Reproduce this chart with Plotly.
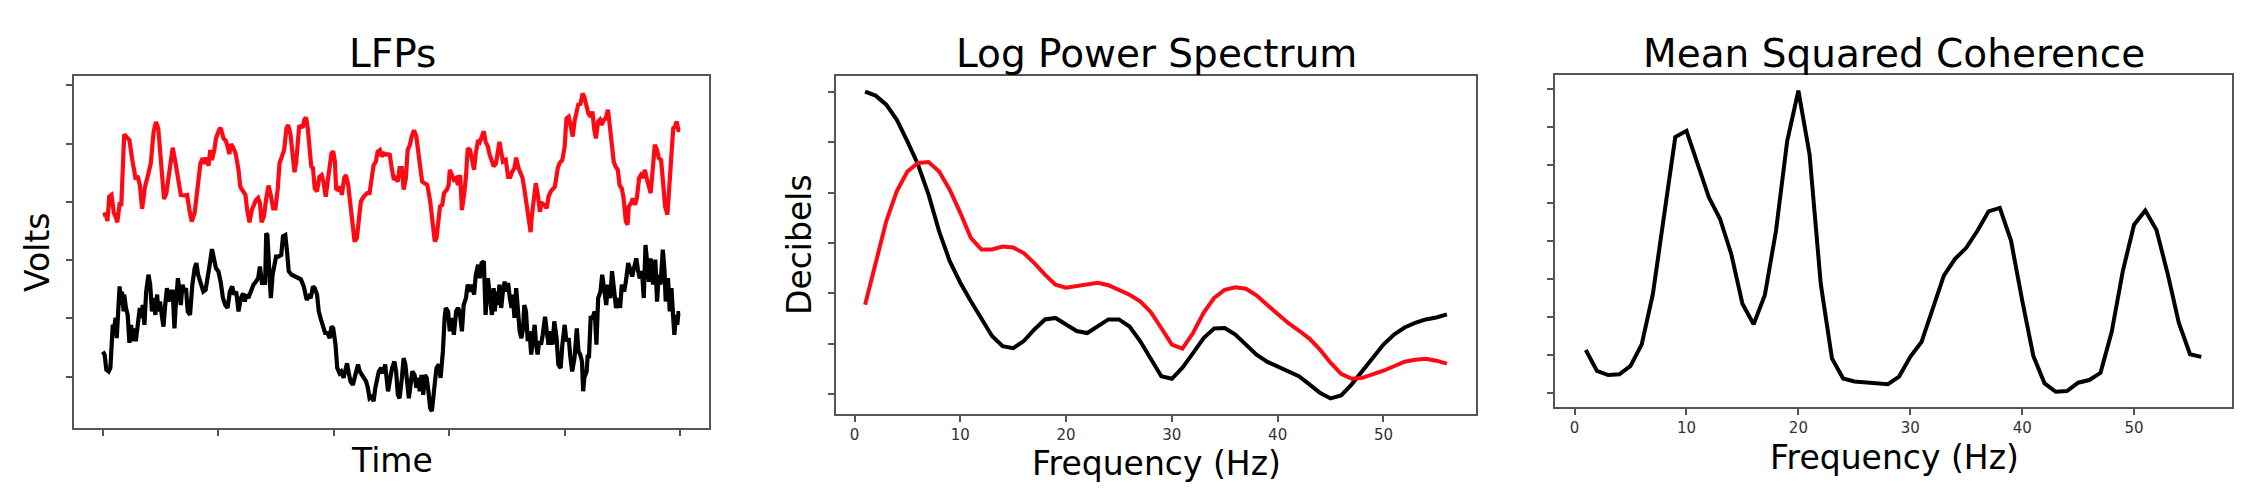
import plotly.graph_objects as go

# LFP traces (samples, arbitrary volts)
red_time = [0, 5, 8, 11, 15, 19, 22, 25, 29, 32, 37, 42, 46, 51, 54, 57, 60, 64, 68, 73,
            77, 83, 88, 92, 96, 100, 103, 106, 110, 115, 121, 126, 131, 135, 140, 146, 150, 154, 159, 164,
            169, 173, 176, 179, 183, 186, 189, 193, 196, 201, 204, 209, 213, 216, 219, 222, 226, 230, 235, 238,
            242, 247, 250, 254, 258, 261, 265, 269, 272, 275, 279, 283, 287, 291, 295, 299, 303, 306, 310, 314,
            318, 321, 325, 328, 332, 335, 338, 340, 343, 346, 349, 352, 355, 358, 361, 364, 367, 371, 375, 379,
            382, 386, 389, 393, 396, 399, 402, 404, 407, 411, 414, 418, 421, 425, 428, 432, 436, 440, 443, 447,
            452, 458, 462, 466, 469, 473, 476, 480, 483, 487, 490, 493, 497, 500, 504, 507, 511, 514, 518, 521,
            525, 528, 532, 535, 539, 543, 546, 550, 553, 557, 562, 567, 571, 575, 578, 581, 584, 588, 591, 596,
            599, 601, 605, 608, 612, 615, 619, 622, 626, 629, 632, 636, 639, 643, 646, 650, 653, 657, 660, 663,
            667, 670, 674, 677, 681, 684, 687, 690, 693, 698, 702, 706, 709, 713, 716, 720, 723, 727, 730, 734,
            738, 741, 743, 747, 750, 754, 757, 760, 765, 769, 772, 776, 780, 783, 788, 791, 796, 800, 803, 807,
            810, 814, 817, 821, 824, 827, 831, 834, 838, 841, 845, 848, 851, 854, 858, 861, 864, 868, 871, 875,
            878, 881, 885, 888, 892, 895, 899, 902, 906, 909, 911, 915, 918, 922, 925, 929, 932, 935, 939, 942,
            946, 949, 953, 956, 960, 963, 967, 971, 974, 978, 981, 985, 988, 991, 994, 997, 1000]
red_lfp = [0.78, 0.79, 0.67, 1.09, 1.12, 0.81, 0.75, 0.65, 0.96, 0.96, 2.16, 2.10, 2.06, 1.72, 1.58, 1.38, 1.45, 1.29, 0.88, 1.26,
           1.41, 1.66, 2.21, 2.37, 2.26, 1.83, 1.35, 1.05, 1.15, 1.55, 1.93, 1.66, 1.35, 1.12, 1.11, 1.12, 0.86, 0.66, 0.81, 1.23,
           1.66, 1.75, 1.65, 1.76, 1.62, 1.89, 1.72, 1.89, 2.09, 2.23, 2.27, 2.09, 2.05, 1.95, 1.82, 1.99, 1.93, 1.83, 1.55, 1.26,
           1.21, 1.12, 0.86, 0.65, 0.86, 0.95, 1.03, 1.07, 0.98, 0.65, 0.75, 1.06, 1.28, 1.11, 0.89, 0.89, 1.23, 1.66, 1.76, 1.89,
           2.26, 2.32, 2.16, 1.89, 1.51, 1.69, 1.98, 2.29, 2.30, 2.27, 2.41, 2.45, 2.26, 1.92, 1.61, 1.58, 1.23, 1.18, 1.43, 1.46,
           1.35, 1.09, 1.35, 1.66, 1.83, 1.87, 1.69, 1.23, 1.21, 1.26, 1.12, 1.41, 1.46, 1.29, 1.06, 0.66, 0.32, 0.38, 0.72, 1.01,
           1.09, 1.15, 1.15, 1.41, 1.63, 1.69, 1.86, 1.89, 1.78, 1.83, 1.81, 1.82, 1.81, 1.61, 1.38, 1.41, 1.35, 1.58, 1.58, 1.21,
           1.41, 1.89, 1.98, 2.12, 2.23, 2.12, 1.83, 1.58, 1.35, 1.32, 1.29, 1.01, 0.61, 0.32, 0.38, 0.66, 0.92, 0.95, 1.15, 1.21,
           1.29, 1.55, 1.46, 1.38, 1.41, 1.29, 1.46, 0.86, 1.15, 1.43, 1.92, 1.89, 1.75, 1.55, 1.83, 2.06, 2.03, 2.12, 2.21, 2.03,
           1.95, 1.81, 1.72, 1.61, 1.66, 1.83, 2.03, 1.86, 1.69, 1.72, 1.43, 1.43, 1.52, 1.58, 1.76, 1.58, 1.49, 1.41, 1.23, 0.95,
           0.61, 0.48, 0.75, 1.06, 1.32, 1.09, 0.83, 0.98, 0.95, 0.89, 1.09, 1.18, 1.23, 1.26, 1.58, 1.66, 1.72, 1.95, 2.43, 2.46,
           2.32, 2.12, 2.38, 2.61, 2.69, 2.66, 2.86, 2.80, 2.66, 2.52, 2.46, 2.55, 2.26, 2.09, 2.38, 2.41, 2.32, 2.41, 2.43, 2.58,
           2.32, 1.98, 1.69, 1.61, 1.55, 1.29, 1.23, 1.06, 0.66, 0.61, 0.92, 0.98, 1.06, 0.95, 1.06, 1.41, 1.46, 1.41, 1.55, 1.41,
           1.29, 1.15, 1.61, 1.98, 1.89, 1.75, 1.72, 1.18, 0.92, 0.78, 1.23, 1.86, 2.26, 2.29, 2.38, 2.23, 2.23]

black_time = [0, 3, 6, 10, 13, 15, 17, 20, 22, 24, 26, 28, 29, 32, 33, 36, 37, 40, 43, 46,
              49, 52, 55, 57, 60, 64, 67, 69, 72, 75, 79, 82, 85, 88, 91, 94, 96, 99, 102, 105,
              108, 111, 114, 117, 121, 124, 126, 130, 133, 135, 138, 141, 144, 147, 151, 155, 159, 162, 165, 170,
              174, 178, 182, 185, 189, 193, 196, 200, 204, 208, 212, 216, 220, 224, 227, 231, 235, 239, 243, 246,
              248, 252, 256, 261, 265, 269, 272, 276, 278, 281, 283, 285, 289, 291, 294, 297, 300, 304, 309, 312,
              316, 319, 322, 327, 332, 337, 343, 348, 351, 353, 357, 360, 364, 367, 371, 374, 377, 381, 385, 389,
              393, 396, 399, 403, 406, 410, 413, 417, 420, 423, 426, 429, 433, 436, 439, 442, 445, 449, 452, 456,
              459, 462, 466, 469, 472, 475, 478, 482, 485, 489, 492, 494, 498, 501, 505, 508, 511, 514, 518, 521,
              524, 527, 530, 533, 536, 540, 543, 546, 549, 552, 555, 558, 561, 564, 567, 570, 573, 576, 578, 582,
              585, 589, 592, 594, 598, 601, 605, 608, 612, 615, 618, 622, 625, 629, 632, 636, 639, 643, 646, 650,
              653, 656, 660, 663, 667, 670, 674, 677, 679, 682, 684, 687, 690, 693, 696, 699, 702, 705, 708, 710,
              713, 716, 719, 722, 725, 728, 730, 733, 736, 739, 742, 745, 748, 750, 753, 756, 759, 762, 766, 769,
              772, 776, 779, 782, 786, 789, 793, 796, 800, 803, 807, 810, 813, 817, 821, 824, 827, 830, 832, 834,
              838, 840, 842, 845, 848, 852, 855, 858, 862, 865, 869, 872, 875, 879, 882, 886, 889, 893, 896, 899,
              903, 906, 910, 913, 917, 920, 924, 927, 930, 934, 937, 940, 943, 946, 949, 953, 957, 960, 963, 966,
              970, 973, 975, 979, 982, 985, 988, 990, 993, 995, 997, 1000]
black_lfp = [-1.57, -1.62, -1.88, -1.91, -1.85, -1.45, -1.14, -1.14, -0.99, -1.34, -0.99, -0.82, -0.45, -0.77, -0.54, -0.88, -0.59, -0.82, -0.94, -1.42,
             -1.11, -1.39, -1.17, -1.39, -1.11, -0.82, -0.99, -0.77, -1.11, -0.54, -0.25, -0.42, -0.88, -0.65, -0.94, -0.59, -0.88, -0.71, -0.94, -1.14,
             -0.77, -0.48, -0.71, -0.54, -0.54, -1.17, -0.82, -0.31, -0.54, -0.77, -0.42, -0.54, -0.48, -0.88, -0.94, -0.42, -0.14, -0.05, -0.25, -0.42,
             -0.54, -0.51, -0.19, -0.08, 0.19, 0.03, -0.14, -0.19, -0.37, -0.65, -0.77, -0.82, -0.54, -0.45, -0.59, -0.54, -0.88, -0.65, -0.57, -0.71,
             -0.59, -0.65, -0.54, -0.42, -0.37, -0.31, -0.11, -0.42, -0.31, -0.42, 0.46, 0.43, -0.31, -0.65, -0.25, -0.08, 0.06, 0.06, 0.09, 0.41,
             0.43, 0.15, -0.19, -0.25, -0.28, -0.31, -0.33, -0.45, -0.65, -0.68, -0.62, -0.65, -0.45, -0.48, -0.59, -0.88, -0.99, -1.11, -1.25, -1.25,
             -1.34, -1.14, -1.17, -1.45, -1.85, -1.94, -1.91, -2.02, -1.91, -1.77, -1.94, -2.08, -2.14, -2.02, -1.91, -1.79, -1.91, -1.97, -2.02, -2.08,
             -2.19, -2.37, -2.34, -2.42, -2.19, -2.02, -1.91, -1.85, -1.94, -1.79, -2.02, -2.25, -2.02, -1.85, -1.74, -1.91, -2.31, -2.37, -2.02, -1.68,
             -1.79, -2.14, -2.37, -2.14, -1.91, -1.97, -2.19, -2.02, -2.25, -1.97, -2.31, -1.97, -2.02, -2.25, -2.54, -2.59, -2.37, -2.02, -1.85, -1.79,
             -2.02, -1.57, -0.99, -0.82, -0.88, -1.22, -0.99, -1.28, -0.88, -0.82, -0.88, -1.22, -0.77, -0.65, -0.42, -0.54, -0.42, -0.59, -0.25, -0.08,
             -0.31, -0.05, -0.02, -0.94, -0.31, -0.54, -0.94, -0.48, -0.88, -0.54, -0.77, -0.42, -0.82, -0.54, -0.37, -0.54, -0.39, -0.65, -0.82, -0.59,
             -0.99, -0.48, -0.88, -1.22, -1.34, -1.17, -0.77, -0.88, -1.39, -1.22, -1.62, -1.39, -1.11, -1.39, -1.62, -1.39, -1.45, -1.28, -0.97, -1.22,
             -1.45, -1.22, -1.45, -1.05, -1.34, -1.79, -1.85, -1.45, -1.11, -1.39, -1.34, -1.68, -1.91, -1.68, -1.17, -1.57, -1.62, -1.74, -2.25, -2.02,
             -1.91, -1.62, -1.68, -0.99, -0.99, -0.88, -1.45, -0.65, -0.54, -0.25, -0.59, -0.77, -0.42, -0.65, -0.19, -0.54, -0.82, -0.65, -0.82, -0.42,
             -0.54, -0.37, -0.05, -0.14, -0.28, -0.14, 0.03, -0.17, -0.31, -0.19, -0.65, 0.26, -0.02, -0.37, 0.03, -0.42, 0.01, -0.71, -0.25, -0.42,
             0.18, -0.19, -0.71, -0.31, -0.88, -0.48, -0.99, -1.28, -0.94, -1.11, -0.91, -0.91]

# spectra, 1..56 Hz
freqs = [1, 2, 3, 4, 5, 6, 7, 8, 9, 10, 11, 12, 13, 14, 15, 16, 17, 18, 19, 20,
         21, 22, 23, 24, 25, 26, 27, 28, 29, 30, 31, 32, 33, 34, 35, 36, 37, 38, 39, 40,
         41, 42, 43, 44, 45, 46, 47, 48, 49, 50, 51, 52, 53, 54, 55, 56]
power_black = [6.01, 5.93, 5.75, 5.45, 5.02, 4.56, 3.96, 3.23, 2.64, 2.21, 1.84, 1.48, 1.15, 0.95, 0.91, 1.05, 1.28, 1.48, 1.51, 1.38,
               1.25, 1.21, 1.34, 1.48, 1.48, 1.34, 1.05, 0.68, 0.35, 0.30, 0.52, 0.81, 1.11, 1.30, 1.31, 1.18, 0.98, 0.78, 0.64, 0.55,
               0.45, 0.35, 0.19, 0.02, -0.09, -0.03, 0.19, 0.45, 0.72, 0.98, 1.18, 1.32, 1.41, 1.48, 1.52, 1.58]
power_red = [1.77, 2.64, 3.43, 4.03, 4.42, 4.59, 4.61, 4.42, 4.06, 3.60, 3.10, 2.87, 2.87, 2.93, 2.91, 2.80, 2.60, 2.37, 2.17, 2.11,
             2.14, 2.19, 2.21, 2.16, 2.07, 1.97, 1.84, 1.63, 1.31, 0.98, 0.90, 1.21, 1.61, 1.91, 2.07, 2.12, 2.09, 1.96, 1.77, 1.59,
             1.41, 1.26, 1.10, 0.88, 0.62, 0.40, 0.30, 0.32, 0.38, 0.46, 0.55, 0.64, 0.68, 0.70, 0.66, 0.60]
coherence = [0.214, 0.159, 0.148, 0.150, 0.172, 0.229, 0.362, 0.572, 0.775, 0.791, 0.703, 0.616, 0.559, 0.467, 0.336, 0.282, 0.358, 0.528, 0.764, 0.897,
             0.729, 0.388, 0.192, 0.139, 0.131, 0.129, 0.126, 0.124, 0.144, 0.196, 0.235, 0.319, 0.410, 0.454, 0.483, 0.528, 0.579, 0.588, 0.502, 0.345,
             0.198, 0.126, 0.104, 0.106, 0.128, 0.135, 0.154, 0.262, 0.423, 0.544, 0.581, 0.530, 0.415, 0.285, 0.203, 0.196]

W, H = 2243, 503
FONT = "DejaVu Sans"
frame = "#555555"
red = "#ff0a14"


def px(x):
    return x / W


def py(y):
    return 1 - y / H


fig = go.Figure()

fig.add_trace(go.Scatter(x=red_time, y=red_lfp, mode="lines", line=dict(color=red, width=4.2),
                         xaxis="x", yaxis="y"))
fig.add_trace(go.Scatter(x=black_time, y=black_lfp, mode="lines", line=dict(color="black", width=4.2),
                         xaxis="x", yaxis="y"))
fig.add_trace(go.Scatter(x=freqs, y=power_black, mode="lines", line=dict(color="black", width=4),
                         xaxis="x2", yaxis="y2"))
fig.add_trace(go.Scatter(x=freqs, y=power_red, mode="lines", line=dict(color=red, width=4),
                         xaxis="x2", yaxis="y2"))
fig.add_trace(go.Scatter(x=freqs, y=coherence, mode="lines", line=dict(color="black", width=4),
                         xaxis="x3", yaxis="y3"))

ax_common = dict(showline=True, mirror=True, linecolor=frame, linewidth=1.5, showgrid=False, zeroline=False,
                 ticks="outside", ticklen=6, tickwidth=1.5, tickcolor=frame,
                 tickfont=dict(family=FONT, size=15, color="#333333"))

fig.update_layout(
    width=W, height=H,
    margin=dict(l=0, r=0, t=0, b=0),
    paper_bgcolor="white", plot_bgcolor="white",
    showlegend=False,
    xaxis=dict(domain=[px(66), px(701)], range=[-50, 1050], tickvals=[0, 200, 400, 600, 800, 1000],
               showticklabels=False, anchor="y", **ax_common),
    yaxis=dict(domain=[py(420), py(68)], range=[-2.88, 3.16], tickvals=[-2, -1, 0, 1, 2, 3],
               showticklabels=False, anchor="x", **ax_common),
    xaxis2=dict(domain=[px(828), px(1468)], range=[-1.75, 58.75], tickvals=[0, 10, 20, 30, 40, 50],
                anchor="y2", **ax_common),
    yaxis2=dict(domain=[py(406), py(68)], range=[-0.40, 6.32], tickvals=[0, 1, 2, 3, 4, 5, 6],
                showticklabels=False, anchor="x2", **ax_common),
    xaxis3=dict(domain=[px(1547), px(2224)], range=[-1.75, 58.75], tickvals=[0, 10, 20, 30, 40, 50],
                anchor="y3", **ax_common),
    yaxis3=dict(domain=[py(399), py(67)], range=[0.064, 0.938],
                tickvals=[0.1, 0.2, 0.3, 0.4, 0.5, 0.6, 0.7, 0.8, 0.9],
                showticklabels=False, anchor="x3", **ax_common),
)

# titles and axis labels
texts = [
    ("LFPs", 384, 45, 39, 0),
    ("Log Power Spectrum", 1148, 45, 39, 0),
    ("Mean Squared Coherence", 1886, 45, 39, 0),
    ("Time", 384, 452, 33, 0),
    ("Frequency (Hz)", 1148, 455, 33, 0),
    ("Frequency (Hz)", 1886, 449, 33, 0),
    ("Volts", 29, 244, 33, -90),
    ("Decibels", 791, 237, 33, -90),
]
for text, x, y, size, angle in texts:
    fig.add_annotation(text=text, x=px(x), y=py(y), xref="paper", yref="paper",
                       xanchor="center", yanchor="middle", showarrow=False, textangle=angle,
                       font=dict(family=FONT, size=size, color="black"))

fig.write_html("out.html")
